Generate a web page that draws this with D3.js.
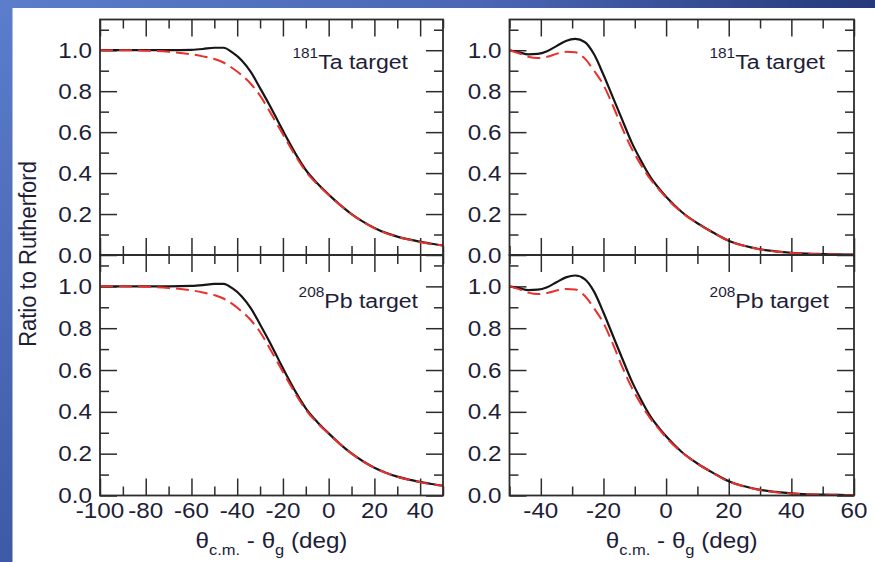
<!DOCTYPE html>
<html>
<head>
<meta charset="utf-8">
<script src="https://cdn.jsdelivr.net/npm/d3@7"></script>
<style>
  html, body { margin: 0; padding: 0; background: #fff; }
  svg { display: block; }
  text { font-family: "Liberation Sans", Arial, Helvetica, sans-serif; fill: #1e1e38; }
</style>
</head>
<body>
<svg id="chart" width="875" height="562"></svg>
<script>
const leftAngles = [-100, -90, -80, -70, -60, -55, -50, -46, -42, -38, -34, -30, -26, -22, -18, -14, -10, -5, 0, 5, 10, 15, 20, 25, 30, 35, 40, 45, 50];
const rightAngles = [-50, -47, -44, -41, -38, -35, -32, -29, -26, -23, -20, -17, -14, -11, -8, -5, -2, 0, 5, 10, 15, 20, 25, 30, 35, 40, 45, 50, 55, 60];

// ratio to Rutherford, 181Ta target
const taLeftBlack = [1.000, 1.000, 1.000, 1.000, 1.002, 1.006, 1.012, 1.012, 0.988, 0.950, 0.893, 0.815, 0.735, 0.650, 0.565, 0.485, 0.415, 0.350, 0.295, 0.245, 0.200, 0.163, 0.132, 0.108, 0.090, 0.076, 0.065, 0.055, 0.047];
const taLeftRed   = [1.000, 1.000, 0.998, 0.992, 0.980, 0.970, 0.957, 0.940, 0.912, 0.878, 0.835, 0.778, 0.705, 0.628, 0.550, 0.475, 0.408, 0.346, 0.293, 0.244, 0.199, 0.162, 0.131, 0.107, 0.089, 0.075, 0.064, 0.054, 0.046];
const taRightBlack = [1.000, 0.990, 0.980, 0.982, 0.995, 1.020, 1.045, 1.055, 1.040, 0.980, 0.880, 0.770, 0.660, 0.550, 0.460, 0.380, 0.320, 0.285, 0.210, 0.155, 0.110, 0.070, 0.045, 0.028, 0.018, 0.011, 0.007, 0.005, 0.003, 0.002];
const taRightRed   = [1.000, 0.985, 0.968, 0.962, 0.968, 0.982, 0.992, 0.990, 0.960, 0.900, 0.830, 0.730, 0.620, 0.520, 0.440, 0.370, 0.315, 0.280, 0.208, 0.154, 0.109, 0.069, 0.044, 0.027, 0.017, 0.010, 0.006, 0.004, 0.003, 0.002];

// ratio to Rutherford, 208Pb target
const pbLeftBlack = [1.000, 1.000, 1.000, 1.000, 1.002, 1.006, 1.012, 1.012, 0.990, 0.952, 0.895, 0.818, 0.738, 0.652, 0.567, 0.487, 0.417, 0.352, 0.297, 0.246, 0.201, 0.164, 0.133, 0.109, 0.090, 0.076, 0.065, 0.055, 0.047];
const pbLeftRed   = [1.000, 1.000, 0.998, 0.992, 0.981, 0.971, 0.958, 0.942, 0.915, 0.880, 0.838, 0.782, 0.708, 0.630, 0.552, 0.477, 0.410, 0.347, 0.295, 0.245, 0.200, 0.163, 0.132, 0.108, 0.089, 0.075, 0.064, 0.054, 0.046];
const pbRightBlack = [1.000, 0.992, 0.982, 0.984, 0.996, 1.020, 1.043, 1.052, 1.035, 0.975, 0.875, 0.765, 0.655, 0.548, 0.458, 0.378, 0.318, 0.283, 0.208, 0.153, 0.108, 0.068, 0.044, 0.027, 0.017, 0.010, 0.006, 0.004, 0.003, 0.002];
const pbRightRed   = [1.000, 0.987, 0.970, 0.963, 0.968, 0.980, 0.988, 0.985, 0.955, 0.895, 0.825, 0.725, 0.615, 0.517, 0.437, 0.368, 0.313, 0.278, 0.206, 0.152, 0.107, 0.067, 0.043, 0.026, 0.016, 0.009, 0.006, 0.004, 0.003, 0.002];

const yMajor = [0, 0.2, 0.4, 0.6, 0.8, 1.0];
const yMinor = [0.1, 0.3, 0.5, 0.7, 0.9, 1.1];
const leftMajor = [-100, -80, -60, -40, -20, 0, 20, 40];
const leftMinor = [-90, -70, -50, -30, -10, 10, 30, 50];
const rightMajor = [-40, -20, 0, 20, 40, 60];
const rightMinor = [-50, -30, -10, 10, 30, 50];

const svg = d3.select("#chart");
const W = 875, H = 562;
const SX = 1.1; // the source picture is stretched a little horizontally

// slide background strips
const defs = svg.append("defs");
const gTop = defs.append("linearGradient").attr("id", "band-top");
gTop.append("stop").attr("offset", "0%").attr("stop-color", "#5b7dcb");
gTop.append("stop").attr("offset", "55%").attr("stop-color", "#4a66b4");
gTop.append("stop").attr("offset", "100%").attr("stop-color", "#25397a");
const gLeft = defs.append("linearGradient").attr("id", "band-left")
  .attr("x1", 0).attr("y1", 0).attr("x2", 0).attr("y2", 1);
gLeft.append("stop").attr("offset", "0%").attr("stop-color", "#5b7dcb");
gLeft.append("stop").attr("offset", "100%").attr("stop-color", "#3e5aa6");

svg.append("rect").attr("width", W).attr("height", H).attr("fill", "#fff");
svg.append("rect").attr("x", 0).attr("y", 0).attr("width", W).attr("height", 8).attr("fill", "url(#band-top)");
svg.append("rect").attr("x", 0).attr("y", 0).attr("width", 12.5).attr("height", H).attr("fill", "url(#band-left)");

const panels = [
  { id: "tl", left: 100, right: 443, top: 19.5, bottom: 255, xDomain: [-100, 50], xMajor: leftMajor, xMinor: leftMinor,
    xs: leftAngles, black: taLeftBlack, red: taLeftRed, mass: "181", target: "Ta target", labelX: 408, labelY: 68.5, showX: false },
  { id: "tr", left: 509.5, right: 854, top: 19.5, bottom: 255, xDomain: [-50, 60], xMajor: rightMajor, xMinor: rightMinor,
    xs: rightAngles, black: taRightBlack, red: taRightRed, mass: "181", target: "Ta target", labelX: 825, labelY: 68.5, showX: false },
  { id: "bl", left: 100, right: 443, top: 255, bottom: 495.5, xDomain: [-100, 50], xMajor: leftMajor, xMinor: leftMinor,
    xs: leftAngles, black: pbLeftBlack, red: pbLeftRed, mass: "208", target: "Pb target", labelX: 418, labelY: 308, showX: true },
  { id: "br", left: 509.5, right: 854, top: 255, bottom: 495.5, xDomain: [-50, 60], xMajor: rightMajor, xMinor: rightMinor,
    xs: rightAngles, black: pbRightBlack, red: pbRightRed, mass: "208", target: "Pb target", labelX: 829, labelY: 308, showX: true }
];

const axisColor = "#2c2c2c";

function styleTicks(g) {
  g.select(".domain").remove();
  g.selectAll("line").attr("stroke", axisColor).attr("stroke-width", 1.5);
  g.selectAll("text").remove();
}

panels.forEach((p) => {
  const x = d3.scaleLinear().domain(p.xDomain).range([p.left, p.right]);
  const y = d3.scaleLinear().domain([0, 1.15]).range([p.bottom, p.top]);

  defs.append("clipPath").attr("id", `clip-${p.id}`)
    .append("rect").attr("x", p.left).attr("y", p.top)
    .attr("width", p.right - p.left).attr("height", p.bottom - p.top);

  const g = svg.append("g");

  // inward ticks on all four sides
  [[yMajor, 17], [yMinor, 9]].forEach(([vals, len]) => {
    g.append("g").attr("transform", `translate(${p.left},0)`)
      .call(d3.axisRight(y).tickValues(vals).tickSize(len)).call(styleTicks);
    g.append("g").attr("transform", `translate(${p.right},0)`)
      .call(d3.axisLeft(y).tickValues(vals).tickSize(len)).call(styleTicks);
  });
  [[p.xMajor, 17], [p.xMinor, 9]].forEach(([vals, len]) => {
    g.append("g").attr("transform", `translate(0,${p.top})`)
      .call(d3.axisBottom(x).tickValues(vals).tickSize(len)).call(styleTicks);
    g.append("g").attr("transform", `translate(0,${p.bottom})`)
      .call(d3.axisTop(x).tickValues(vals).tickSize(len)).call(styleTicks);
  });

  // y tick labels
  const yl = g.append("g").attr("transform", `translate(${p.left},0)`)
    .call(d3.axisLeft(y).tickValues(yMajor).tickSize(0).tickPadding(8).tickFormat(d3.format(".1f")));
  yl.select(".domain").remove();
  yl.selectAll("text")
    .attr("font-size", 22)
    .attr("x", -8 / SX)
    .attr("transform", `scale(${SX},1)`)
    .style("fill", "#1e1e38");

  if (p.showX) {
    const xl = g.append("g").attr("transform", `translate(0,${p.bottom})`)
      .call(d3.axisBottom(x).tickValues(p.xMajor).tickSize(0).tickPadding(7).tickFormat((d) => String(d)));
    xl.select(".domain").remove();
    xl.selectAll("text")
      .attr("font-size", 22)
      .style("fill", "#1e1e38");
    // stretch each label about its own tick
    xl.selectAll(".tick").each(function (d) {
      d3.select(this).attr("transform", `translate(${x(d)},0) scale(${SX},1)`);
    });

    const title = svg.append("text")
      .attr("transform", `translate(${(p.left + p.right) / 2},548) scale(${SX},1)`)
      .attr("text-anchor", "middle")
      .attr("font-size", 22);
    title.append("tspan").text("θ");
    title.append("tspan").attr("font-size", 15).attr("dy", 7).text("c.m.");
    title.append("tspan").attr("dy", -7).text(" - θ");
    title.append("tspan").attr("font-size", 15).attr("dy", 7).text("g");
    title.append("tspan").attr("dy", -7).text(" (deg)");
  }

  // curves
  const line = d3.line()
    .x((d) => x(d[0]))
    .y((d) => y(d[1]))
    .curve(d3.curveMonotoneX);

  const curves = g.append("g").attr("clip-path", `url(#clip-${p.id})`);
  curves.append("path")
    .attr("d", line(p.xs.map((v, i) => [v, p.black[i]])))
    .attr("fill", "none").attr("stroke", "#161616").attr("stroke-width", 2.2);
  curves.append("path")
    .attr("d", line(p.xs.map((v, i) => [v, p.red[i]])))
    .attr("fill", "none").attr("stroke", "#e8302c").attr("stroke-width", 2)
    .attr("stroke-dasharray", "13,6");

  // frame
  g.append("rect")
    .attr("x", p.left).attr("y", p.top)
    .attr("width", p.right - p.left).attr("height", p.bottom - p.top)
    .attr("fill", "none").attr("stroke", axisColor).attr("stroke-width", 1.8);

  // target label
  const lab = svg.append("text")
    .attr("transform", `translate(${p.labelX},${p.labelY}) scale(${SX},1)`)
    .attr("text-anchor", "end")
    .attr("font-size", 21);
  lab.append("tspan").attr("font-size", 14).attr("dy", -11).text(p.mass);
  lab.append("tspan").attr("dy", 11).text(p.target);
});

svg.append("text")
  .attr("transform", `translate(36,254) scale(${SX},1) rotate(-90)`)
  .attr("text-anchor", "middle")
  .attr("font-size", 22)
  .text("Ratio to Rutherford");
</script>
</body>
</html>
